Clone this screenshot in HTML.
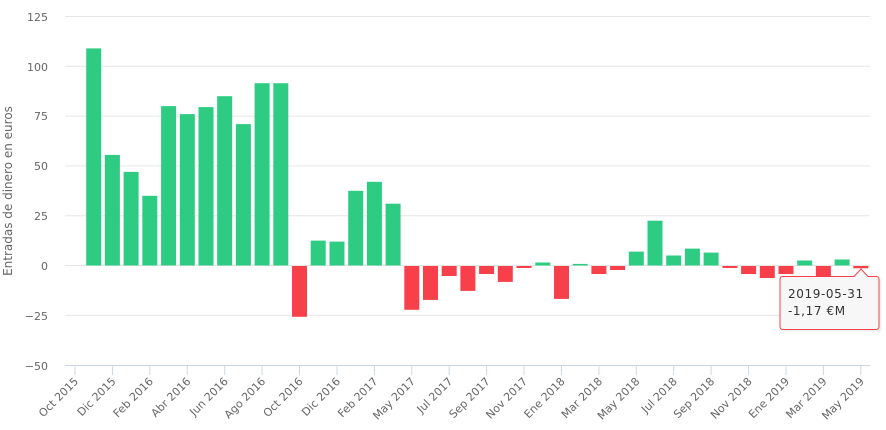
<!DOCTYPE html>
<html><head><meta charset="utf-8"><style>
body{margin:0;background:#fff;}
svg{display:block;font-family:"DejaVu Sans","Liberation Sans",sans-serif;}
</style></head><body>
<svg width="886" height="430" viewBox="0 0 886 430" xmlns="http://www.w3.org/2000/svg">
<g stroke="#e6e6e6" stroke-width="1">
<line x1="65" x2="870" y1="16.5" y2="16.5"/>
<line x1="65" x2="870" y1="66.3" y2="66.3"/>
<line x1="65" x2="870" y1="116.1" y2="116.1"/>
<line x1="65" x2="870" y1="165.9" y2="165.9"/>
<line x1="65" x2="870" y1="215.7" y2="215.7"/>
<line x1="65" x2="870" y1="265.5" y2="265.5"/>
<line x1="65" x2="870" y1="315.3" y2="315.3"/>
</g>
<line x1="65" x2="870" y1="365.5" y2="365.5" stroke="#ccd6eb"/>
<g stroke="#ccd6eb">
<line x1="75" x2="75" y1="365" y2="375"/><line x1="112.4" x2="112.4" y1="365" y2="375"/><line x1="149.8" x2="149.8" y1="365" y2="375"/><line x1="187.3" x2="187.3" y1="365" y2="375"/><line x1="224.7" x2="224.7" y1="365" y2="375"/><line x1="262.1" x2="262.1" y1="365" y2="375"/><line x1="299.5" x2="299.5" y1="365" y2="375"/><line x1="337" x2="337" y1="365" y2="375"/><line x1="374.4" x2="374.4" y1="365" y2="375"/><line x1="411.8" x2="411.8" y1="365" y2="375"/><line x1="449.2" x2="449.2" y1="365" y2="375"/><line x1="486.6" x2="486.6" y1="365" y2="375"/><line x1="524" x2="524" y1="365" y2="375"/><line x1="561.5" x2="561.5" y1="365" y2="375"/><line x1="598.9" x2="598.9" y1="365" y2="375"/><line x1="636.3" x2="636.3" y1="365" y2="375"/><line x1="673.7" x2="673.7" y1="365" y2="375"/><line x1="711.1" x2="711.1" y1="365" y2="375"/><line x1="748.6" x2="748.6" y1="365" y2="375"/><line x1="786" x2="786" y1="365" y2="375"/><line x1="823.4" x2="823.4" y1="365" y2="375"/><line x1="860.8" x2="860.8" y1="365" y2="375"/>
</g>
<g fill="#666" font-size="11" text-anchor="end">
<text x="48" y="21">125</text><text x="48" y="71">100</text><text x="48" y="120">75</text><text x="48" y="170">50</text><text x="48" y="220">25</text><text x="48" y="270">0</text><text x="48" y="320">−25</text><text x="48" y="370">−50</text>
</g>
<text transform="translate(12,191) rotate(-90)" text-anchor="middle" fill="#666" font-size="12">Entradas de dinero en euros</text>
<g fill="#666" font-size="11" text-anchor="end">
<text transform="translate(79,382) rotate(-45)">Oct 2015</text>
<text transform="translate(116.4,382) rotate(-45)">Dic 2015</text>
<text transform="translate(153.8,382) rotate(-45)">Feb 2016</text>
<text transform="translate(191.3,382) rotate(-45)">Abr 2016</text>
<text transform="translate(228.7,382) rotate(-45)">Jun 2016</text>
<text transform="translate(266.1,382) rotate(-45)">Ago 2016</text>
<text transform="translate(303.5,382) rotate(-45)">Oct 2016</text>
<text transform="translate(341,382) rotate(-45)">Dic 2016</text>
<text transform="translate(378.4,382) rotate(-45)">Feb 2017</text>
<text transform="translate(415.8,382) rotate(-45)">May 2017</text>
<text transform="translate(453.2,382) rotate(-45)">Jul 2017</text>
<text transform="translate(490.6,382) rotate(-45)">Sep 2017</text>
<text transform="translate(528,382) rotate(-45)">Nov 2017</text>
<text transform="translate(565.5,382) rotate(-45)">Ene 2018</text>
<text transform="translate(602.9,382) rotate(-45)">Mar 2018</text>
<text transform="translate(640.3,382) rotate(-45)">May 2018</text>
<text transform="translate(677.7,382) rotate(-45)">Jul 2018</text>
<text transform="translate(715.1,382) rotate(-45)">Sep 2018</text>
<text transform="translate(752.6,382) rotate(-45)">Nov 2018</text>
<text transform="translate(790,382) rotate(-45)">Ene 2019</text>
<text transform="translate(827.4,382) rotate(-45)">Mar 2019</text>
<text transform="translate(864.8,382) rotate(-45)">May 2019</text>
</g>
<g fill="#2ecc83">
<rect x="86.2" y="48.4" width="15" height="217.1"/>
<rect x="104.9" y="154.9" width="15" height="110.6"/>
<rect x="123.6" y="171.9" width="15" height="93.6"/>
<rect x="142.3" y="195.8" width="15" height="69.7"/>
<rect x="161.1" y="106.1" width="15" height="159.4"/>
<rect x="179.8" y="114.1" width="15" height="151.4"/>
<rect x="198.5" y="107.1" width="15" height="158.4"/>
<rect x="217.2" y="96.2" width="15" height="169.3"/>
<rect x="235.9" y="124.1" width="15" height="141.4"/>
<rect x="254.6" y="83.2" width="15" height="182.3"/>
<rect x="273.3" y="83.2" width="15" height="182.3"/>
<rect x="310.7" y="240.6" width="15" height="24.9"/>
<rect x="329.5" y="241.6" width="15" height="23.9"/>
<rect x="348.2" y="190.8" width="15" height="74.7"/>
<rect x="366.9" y="181.8" width="15" height="83.7"/>
<rect x="385.6" y="203.7" width="15" height="61.8"/>
<rect x="535.3" y="262.5" width="15" height="3"/>
<rect x="572.7" y="263.9" width="15" height="1.6"/>
<rect x="628.8" y="251.6" width="15" height="13.9"/>
<rect x="647.5" y="220.7" width="15" height="44.8"/>
<rect x="666.2" y="255.5" width="15" height="10"/>
<rect x="684.9" y="248.6" width="15" height="16.9"/>
<rect x="703.6" y="252.6" width="15" height="12.9"/>
<rect x="797.2" y="260.5" width="15" height="5"/>
<rect x="834.6" y="259.5" width="15" height="6"/>
</g>
<g fill="#f7404a">
<rect x="292" y="266" width="15" height="50.8"/>
<rect x="404.3" y="266" width="15" height="43.8"/>
<rect x="423" y="266" width="15" height="33.9"/>
<rect x="441.7" y="266" width="15" height="10"/>
<rect x="460.4" y="266" width="15" height="24.9"/>
<rect x="479.1" y="266" width="15" height="8"/>
<rect x="497.8" y="266" width="15" height="15.9"/>
<rect x="516.5" y="266" width="15" height="2"/>
<rect x="554" y="266" width="15" height="32.9"/>
<rect x="591.4" y="266" width="15" height="8"/>
<rect x="610.1" y="266" width="15" height="4"/>
<rect x="722.4" y="266" width="15" height="2"/>
<rect x="741.1" y="266" width="15" height="8"/>
<rect x="759.8" y="266" width="15" height="12"/>
<rect x="778.5" y="266" width="15" height="8"/>
<rect x="815.9" y="266" width="15" height="14"/>
<rect x="853.3" y="266" width="15" height="2.3"/>
</g>
<path d="M783.5,277.5 H854 L861,270 L868,277.5 H877.5 Q880.5,277.5 880.5,280.5 V327.5 Q880.5,330.5 877.5,330.5 H783.5 Q780.5,330.5 780.5,327.5 V280.5 Q780.5,277.5 783.5,277.5 Z" fill="#000" fill-opacity="0.06" transform="translate(1,1)"/>
<path d="M783,276.5 H854 L861,269 L868,276.5 H876 Q879,276.5 879,279.5 V326.5 Q879,329.5 876,329.5 H783 Q780,329.5 780,326.5 V279.5 Q780,276.5 783,276.5 Z" fill="#f7f7f7" stroke="#f7404a" stroke-width="1"/>
<g fill="#333" font-size="12" letter-spacing="0.6">
<text x="788" y="298">2019-05-31</text>
<text x="788" y="315">-1,17 €M</text>
</g>
</svg>
</body></html>
